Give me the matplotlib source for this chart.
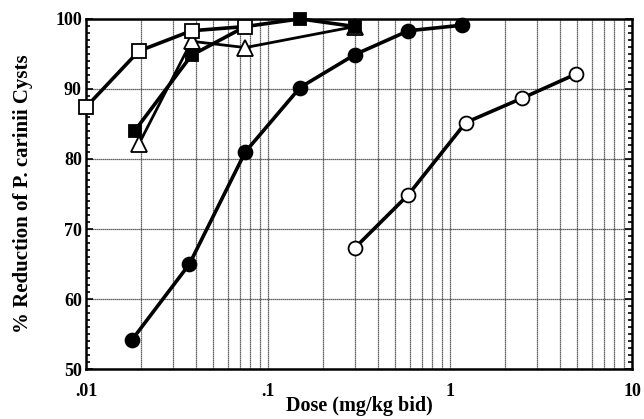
import numpy as np
import matplotlib.pyplot as plt
from matplotlib.ticker import FixedLocator, LogLocator, MultipleLocator, NullFormatter

plt.rcParams['font.family'] = ['Liberation Serif', 'DejaVu Serif']
plt.rcParams['font.weight'] = 'bold'

# open squares
sq_open_x = [0.01, 0.0195, 0.038, 0.075]
sq_open_y = [87.4, 95.4, 98.3, 98.9]
# filled squares
sq_fill_x = [0.0185, 0.038, 0.075, 0.15, 0.30]
sq_fill_y = [84.0, 94.8, 98.9, 100.0, 98.9]
# open triangles
tri_x = [0.0195, 0.038, 0.075, 0.30]
tri_y = [82.1, 96.8, 95.9, 98.9]
# filled circles
circ_fill_x = [0.0178, 0.037, 0.075, 0.15, 0.30, 0.59, 1.17]
circ_fill_y = [54.1, 65.0, 81.0, 90.2, 94.9, 98.3, 99.1]
# open circles
circ_open_x = [0.30, 0.59, 1.22, 2.5, 4.9]
circ_open_y = [67.3, 74.9, 85.2, 88.7, 92.1]

fig = plt.figure(figsize=(6.44, 4.19), dpi=100)
ax = fig.add_axes([0.1335, 0.119, 0.848, 0.836])
ax.set_xscale('log')
ax.set_xlim(0.01, 10)
ax.set_ylim(50, 100)

ax.xaxis.set_major_locator(FixedLocator([0.01, 0.1, 1, 10]))
ax.set_xticklabels(['.01', '.1', '1', '10'])
ax.xaxis.set_minor_locator(LogLocator(base=10, subs=np.arange(2, 10)))
ax.xaxis.set_minor_formatter(NullFormatter())
ax.yaxis.set_major_locator(MultipleLocator(10))
ax.yaxis.set_minor_locator(MultipleLocator(1))

ax.grid(True, which='both', axis='x', color='0.2', lw=0.9, ls=(0, (1, 0.6)))
ax.grid(True, which='major', axis='y', color='0.2', lw=0.9, ls=(0, (1, 0.6)))
ax.tick_params(axis='both', which='both', direction='in', right=True, top=True,
               labelsize=13, width=1.2)
ax.tick_params(axis='y', which='major', length=5, pad=3)
ax.tick_params(axis='y', which='minor', length=3)
ax.tick_params(axis='x', which='both', length=0, pad=10)
for s in ax.spines.values():
    s.set_linewidth(1.8)

kw = dict(color='black', lw=2.6, markersize=10, markeredgewidth=1.3,
          markeredgecolor='black', clip_on=False, zorder=3)
ax.plot(circ_open_x, circ_open_y, marker='o', markerfacecolor='white', **kw)
ax.plot(circ_fill_x, circ_fill_y, marker='o', markerfacecolor='black', **kw)
ax.plot(tri_x, tri_y, marker='^', markerfacecolor='white', **dict(kw, lw=2.0, markersize=11))
ax.plot(sq_fill_x, sq_fill_y, marker='s', markerfacecolor='black', **dict(kw, markersize=9))
ax.plot(sq_open_x, sq_open_y, marker='s', markerfacecolor='white', **kw)

ax.set_xlabel('Dose (mg/kg bid)', fontsize=14.5, fontweight='bold', labelpad=-3)
ax.set_ylabel('% Reduction of P. carinii Cysts', fontsize=15, fontweight='bold', labelpad=16)

fig.savefig('out.png', dpi=100)
